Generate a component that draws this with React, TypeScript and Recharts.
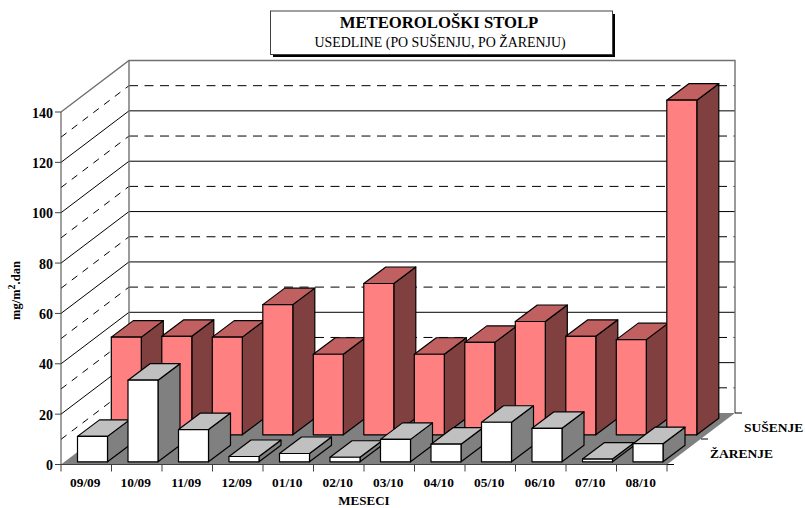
import { Bar, BarChart, CartesianGrid, Customized, XAxis, YAxis } from "recharts";

const months = ["09/09", "10/09", "11/09", "12/09", "01/10", "02/10", "03/10", "04/10", "05/10", "06/10", "07/10", "08/10"];
const susenje = [38.8, 39.1, 38.8, 51.7, 32, 60.1, 32, 36.7, 45, 39.1, 37.8, 132.9];
const zarenje = [10.1, 32.4, 12.8, 2.1, 3.3, 1.8, 8.9, 7, 15.7, 13.3, 1.1, 7.2];
const yTicks = [0, 20, 40, 60, 80, 100, 120, 140];
const solidLines = [20, 40, 60, 80, 100, 120];
const dashedLines = [10, 30, 50, 70, 90, 110, 130];

const data = months.map((month, i) => ({ month, susenje: susenje[i], zarenje: zarenje[i] }));

const SERIF = "'Liberation Serif', 'Times New Roman', serif";
const LEFT = 61;
const RIGHT = 667;
const TOP = 112;
const BOTTOM = 464.5;
// depth of the 3D box: how far the back wall sits from the front plane
const WALL_DX = 68;
const WALL_DY = 51.5;
const BAR_DX = 22;
const BAR_DY = 16.5;
const BAND = (RIGHT - LEFT) / months.length;

function Box({ x, y, width, height, shiftX, shiftY, front, side, top }: any) {
  const l = x + shiftX;
  const r = l + width;
  const t = y - shiftY;
  const b = t + height;
  return (
    <g stroke="#000" strokeWidth={1.2} strokeLinejoin="round">
      <polygon points={`${r},${t} ${r + BAR_DX},${t - BAR_DY} ${r + BAR_DX},${b - BAR_DY} ${r},${b}`} fill={side} />
      <polygon points={`${l},${t} ${l + BAR_DX},${t - BAR_DY} ${r + BAR_DX},${t - BAR_DY} ${r},${t}`} fill={top} />
      <rect x={l} y={t} width={width} height={height} fill={front} />
    </g>
  );
}

function WallLine({ x1, x2, y1, dash }: any) {
  const sideDash = dash ? "7 6.5" : undefined;
  const backDash = dash ? "9 6.5" : undefined;
  return (
    <g stroke="#000" strokeWidth={1} fill="none">
      <line x1={x1} y1={y1} x2={x1 + WALL_DX} y2={y1 - WALL_DY} strokeDasharray={sideDash} />
      <line x1={x1 + WALL_DX} y1={y1 - WALL_DY} x2={x2 + WALL_DX} y2={y1 - WALL_DY} strokeDasharray={backDash} />
    </g>
  );
}

function Walls() {
  const backL = LEFT + WALL_DX;
  const backR = RIGHT + WALL_DX;
  const backT = TOP - WALL_DY;
  const backB = BOTTOM - WALL_DY;
  return (
    <g>
      <polygon
        points={`${LEFT},${BOTTOM} ${backL},${backB} ${backR},${backB} ${RIGHT},${BOTTOM}`}
        fill="#808080"
      />
      <polyline
        points={`${LEFT},${TOP} ${backL},${backT} ${backR},${backT} ${backR},${backB}`}
        fill="none"
        stroke="#707070"
        strokeWidth={1.4}
      />
      <line x1={backL} y1={backT} x2={backL} y2={backB} stroke="#707070" strokeWidth={1.4} />
    </g>
  );
}

function XTick({ x, payload, index }: any) {
  const left = x - BAND / 2;
  return (
    <g>
      <line x1={left} y1={BOTTOM} x2={left} y2={BOTTOM + 7} stroke="#404040" strokeWidth={1} />
      {index === months.length - 1 && (
        <line x1={left + BAND} y1={BOTTOM} x2={left + BAND} y2={BOTTOM + 7} stroke="#404040" strokeWidth={1} />
      )}
      <text x={x - 1} y={487} textAnchor="middle" fontFamily={SERIF} fontWeight="bold" fontSize={13.4} fill="#000">
        {payload.value}
      </text>
    </g>
  );
}

function YTick({ y, payload }: any) {
  return (
    <text x={53} y={y + 5.5} textAnchor="end" fontFamily={SERIF} fontWeight="bold" fontSize={14} fill="#000">
      {payload.value}
    </text>
  );
}

function Annotations() {
  const t = { fontFamily: SERIF, fill: "#000" };
  return (
    <g>
      {/* title box with hard shadow */}
      <rect x={273} y={14} width={342} height={43} fill="#000" />
      <rect x={270.5} y={11} width={342} height={43.5} fill="#fff" stroke="#404040" strokeWidth={1} />
      <text {...t} x={439} y={28} textAnchor="middle" fontWeight="bold" fontSize={16.7}>
        METEOROLOŠKI STOLP
      </text>
      <text {...t} x={440} y={47} textAnchor="middle" fontSize={13.9}>
        USEDLINE (PO SUŠENJU, PO ŽARENJU)
      </text>
      {/* depth axis */}
      <g stroke="#000" strokeWidth={1}>
        <line x1={RIGHT} y1={BOTTOM} x2={RIGHT + 7} y2={BOTTOM} />
        <line x1={RIGHT + 34} y1={BOTTOM - 25.5} x2={RIGHT + 41} y2={BOTTOM - 25.5} />
        <line x1={RIGHT + WALL_DX} y1={BOTTOM - WALL_DY} x2={RIGHT + WALL_DX + 7} y2={BOTTOM - WALL_DY} />
      </g>
      <text {...t} x={744} y={432} fontWeight="bold" fontSize={13.5}>
        SUŠENJE
      </text>
      <text {...t} x={710} y={458} fontWeight="bold" fontSize={13.5}>
        ŽARENJE
      </text>
      <text {...t} x={364} y={505} textAnchor="middle" fontWeight="bold" fontSize={13}>
        MESECI
      </text>
      <text {...t} transform="translate(20,320) rotate(-90)" fontWeight="bold" fontSize={12.5}>
        mg/m
        <tspan dy={-5} fontSize={10}>2</tspan>
        <tspan dy={5}>.dan</tspan>
      </text>
    </g>
  );
}

export default function App() {
  return (
    <div style={{ position: "absolute", left: 0, top: 0, background: "#fff" }}>
      <BarChart
        width={805}
        height={508}
        data={data}
        margin={{ top: TOP, right: 805 - RIGHT, bottom: 0, left: 0 }}
        barSize={30}
        barGap={-30}
      >
        <Customized component={<Walls />} />
        <CartesianGrid
          vertical={false}
          horizontalValues={solidLines}
          horizontal={(p: any) => <WallLine key={p.index} {...p} />}
        />
        <CartesianGrid
          vertical={false}
          horizontalValues={dashedLines}
          horizontal={(p: any) => <WallLine key={p.index} {...p} dash />}
        />
        <XAxis
          dataKey="month"
          interval={0}
          height={508 - BOTTOM}
          tickLine={false}
          axisLine={{ stroke: "#404040" }}
          tick={<XTick />}
        />
        <YAxis
          width={LEFT}
          domain={[0, 140]}
          ticks={yTicks}
          tickSize={6}
          tickMargin={3}
          stroke="#404040"
          tick={<YTick />}
        />
        <Bar
          dataKey="susenje"
          isAnimationActive={false}
          shape={(p: any) => <Box {...p} shiftX={40.3} shiftY={29.7} front="#FF8080" side="#804040" top="#C06060" />}
        />
        <Bar
          dataKey="zarenje"
          isAnimationActive={false}
          shape={(p: any) => <Box {...p} shiftX={6.5} shiftY={2.7} front="#FFFFFF" side="#808080" top="#C0C0C0" />}
        />
        <Customized component={<Annotations />} />
      </BarChart>
    </div>
  );
}
